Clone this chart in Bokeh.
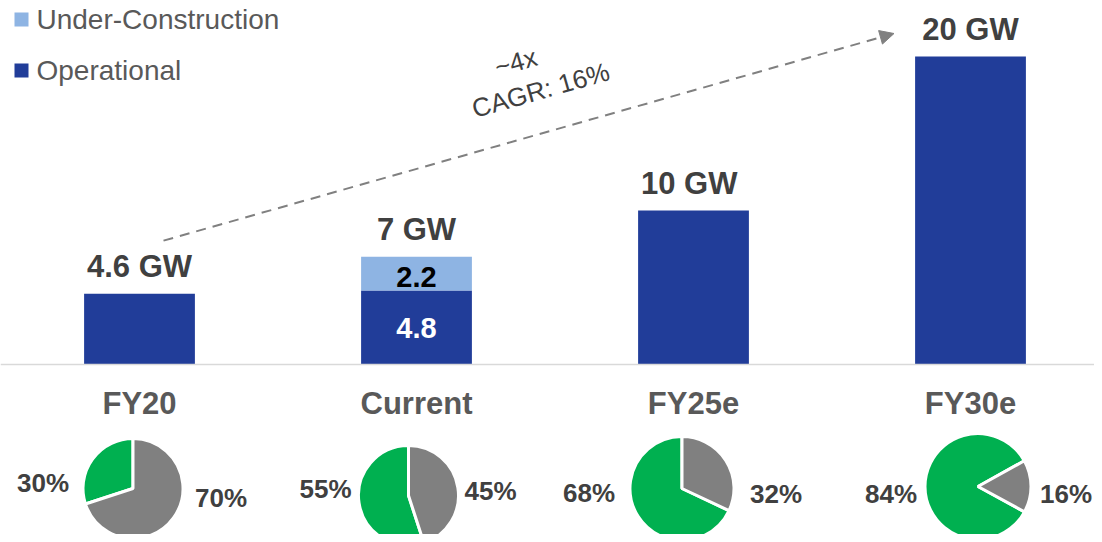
import math
from bokeh.plotting import figure
from bokeh.models import Range1d, Span, Arrow, NormalHead
from bokeh.core.properties import value
from bokeh.embed import file_html
from bokeh.resources import INLINE

# ---------------- data ----------------
categories = ["FY20", "Current", "FY25e", "FY30e"]
operational = [4.6, 4.8, 10, 20]
under_construction = [0, 2.2, 0, 0]
bar_labels = ["4.6 GW", "7 GW", "10  GW", "20 GW"]
inner_uc_labels = ["", "2.2", "", ""]
inner_op_labels = ["", "4.8", "", ""]
green_share = [30, 55, 68, 84]
grey_share = [70, 45, 32, 16]
legend_labels = ["Under-Construction", "Operational"]
cagr_lines = ["~4x", "CAGR: 16%"]

# ---------------- style / layout ----------------
FONT = "Liberation Sans"
DARK_BLUE = "#213D99"
LIGHT_BLUE = "#8EB4E3"
GREEN = "#00B050"
GREY = "#808080"
TXT = "#404040"
TXT2 = "#595959"

PX_X = 277.0     # pixels per category
PX_Y = 15.4      # pixels per GW
W, H = 1094, 534
X_LEFT = 139     # pixel of first category centre
Y_BASE = 364     # pixel of baseline

def dx(px):
    return px / PX_X

def dy(px):
    return px / PX_Y

idx = list(range(len(categories)))
totals = [o + u for o, u in zip(operational, under_construction)]

p = figure(width=W, height=H, output_backend="svg", toolbar_location=None,
           x_axis_location=None, y_axis_location=None, min_border=0,
           x_range=Range1d(-dx(X_LEFT), dx(W - X_LEFT)),
           y_range=Range1d(-dy(H - Y_BASE), dy(Y_BASE)))
p.outline_line_color = None
p.grid.visible = False
p.background_fill_color = "white"
p.border_fill_color = "white"

# baseline
p.add_layout(Span(location=0, dimension="width", line_color="#D9D9D9", line_width=1.5))

# bars
p.vbar(x=idx, top=operational, bottom=0, width=0.4, fill_color=DARK_BLUE, line_color=None)
p.vbar(x=idx, top=totals, bottom=operational, width=0.4, fill_color=LIGHT_BLUE, line_color=None)

# bar totals
p.text(x=idx, y=[t + dy(27) for t in totals], text=bar_labels, text_align="center",
       text_baseline="middle", text_font=value(FONT), text_font_style="bold",
       text_font_size="31px", text_color=TXT)

# inner labels
p.text(x=idx, y=[o + u / 2 + dy(-3) for o, u in zip(operational, under_construction)],
       text=inner_uc_labels, text_align="center", text_baseline="middle",
       text_font=value(FONT), text_font_style="bold", text_font_size="29px", text_color="black")
p.text(x=idx, y=[o / 2 for o in operational], text=inner_op_labels, text_align="center",
       text_baseline="middle", text_font=value(FONT), text_font_style="bold",
       text_font_size="29px", text_color="white")

# category labels
p.text(x=idx, y=[-dy(39)] * len(idx), text=categories, text_align="center",
       text_baseline="middle", text_font=value(FONT), text_font_style="bold",
       text_font_size="31px", text_color=TXT2)

# pies
pie_dx = [-6.5, -8, -11.5, 7.5]
pie_py = [124, 131, 124, 122]
pie_r = [50, 50, 52, 53]
pie_start = [90, 90, 90, 29]
pcx = [i + dx(d) for i, d in zip(idx, pie_dx)]
pcy = [-dy(v) for v in pie_py]
g_start = [math.radians(s) for s in pie_start]
g_end = [math.radians(s + g * 3.6) for s, g in zip(pie_start, green_share)]
r_end = [math.radians(s + 360) for s in pie_start]
p.wedge(x=pcx, y=pcy, radius=pie_r, radius_units="screen", start_angle=g_start,
        end_angle=g_end, fill_color=GREEN, line_color="white", line_width=3)
p.wedge(x=pcx, y=pcy, radius=pie_r, radius_units="screen", start_angle=g_end,
        end_angle=r_end, fill_color=GREY, line_color="white", line_width=3)

left_dx = [-90, -83, -93, -87]
right_dx = [88, 82, 94, 88]
left_dy = [-6, -7, 4, 7]
right_dy = [9, -5, 5, 7]
p.text(x=[x + dx(d) for x, d in zip(pcx, left_dx)], y=[y - dy(d) for y, d in zip(pcy, left_dy)],
       text=[f"{g}%" for g in green_share], text_align="center", text_baseline="middle",
       text_font=value(FONT), text_font_style="bold", text_font_size="26px", text_color=TXT)
p.text(x=[x + dx(d) for x, d in zip(pcx, right_dx)], y=[y - dy(d) for y, d in zip(pcy, right_dy)],
       text=[f"{r}%" for r in grey_share], text_align="center", text_baseline="middle",
       text_font=value(FONT), text_font_style="bold", text_font_size="26px", text_color=TXT)

# growth arrow
xs, ys = idx[0] + dx(24), totals[0] + dy(53)
xe, ye = idx[-1] - dx(76.5), totals[-1] + dy(23)
p.add_layout(Arrow(x_start=xs, y_start=ys, x_end=xe, y_end=ye, line_color=GREY,
                   line_width=2, line_dash="10 7",
                   end=NormalHead(size=14, fill_color=GREY, line_color=GREY)))
ang = math.degrees(math.atan2((ye - ys) * PX_Y, (xe - xs) * PX_X))
xm, ym = (xs + xe) / 2, (ys + ye) / 2
p.text(x=[xm + dx(-13), xm + dx(12)], y=[ym + dy(75), ym + dy(47)], text=cagr_lines,
       angle=ang, angle_units="deg", text_align="center", text_baseline="middle",
       text_font=value(FONT), text_font_size="26px", text_color=TXT)

# legend (manual)
lx = idx[0] + dx(21 - X_LEFT)
ly = [dy(Y_BASE - 19), dy(Y_BASE - 70)]
p.scatter(x=[lx, lx], y=ly, marker="square", size=14, fill_color=[LIGHT_BLUE, DARK_BLUE],
          line_color=None)
p.text(x=[lx + dx(15)] * 2, y=ly, text=legend_labels, text_align="left", text_baseline="middle",
       text_font=value(FONT), text_font_size="28px", text_color=TXT2)

open("out.html", "w").write(file_html(p, INLINE))
